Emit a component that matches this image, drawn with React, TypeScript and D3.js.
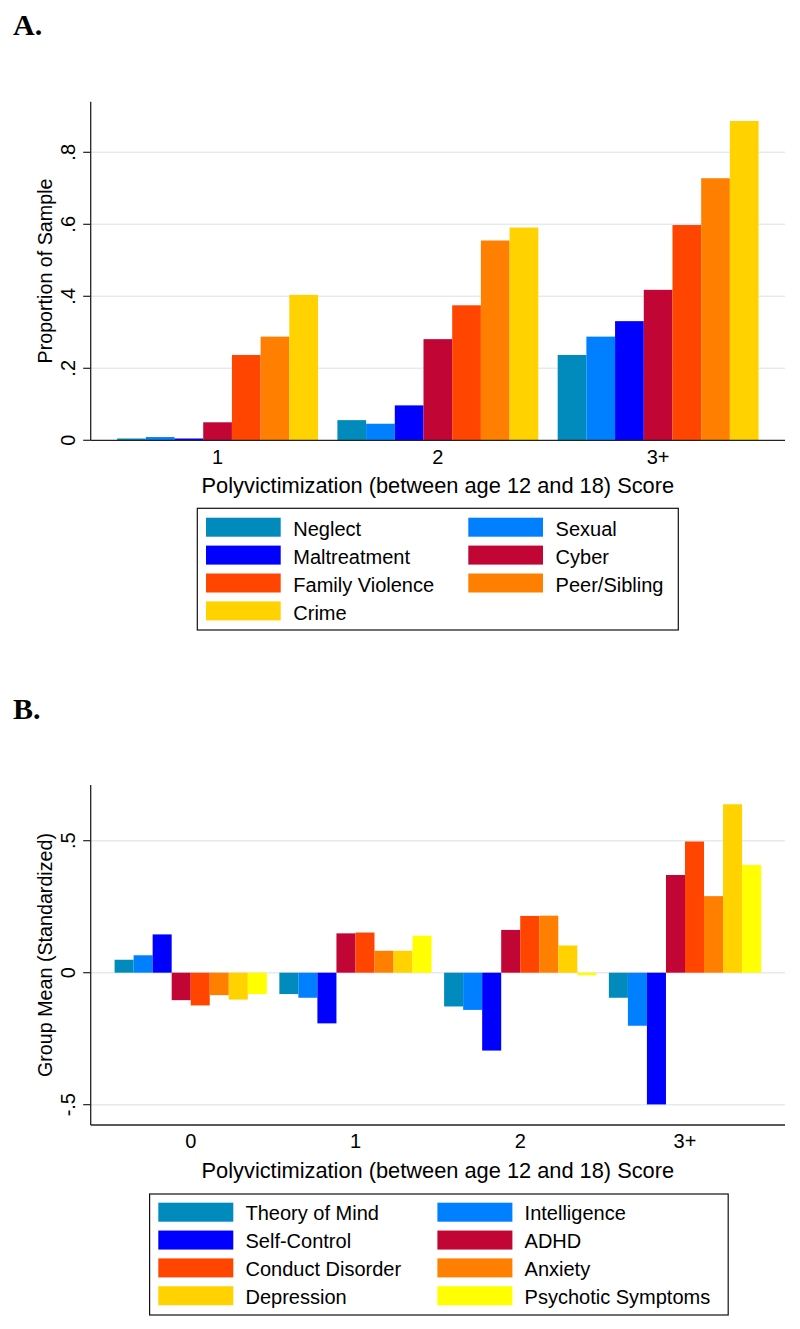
import { useEffect, useRef } from "react"
import * as d3 from "d3"

// Panel A: proportion of sample exposed to each victimization type
const groupsA = ["1", "2", "3+"]
const seriesA = ["Neglect", "Sexual", "Maltreatment", "Cyber", "Family Violence", "Peer/Sibling", "Crime"]
const neglect = [0.005, 0.056, 0.237]
const sexual = [0.009, 0.046, 0.288]
const maltreatment = [0.005, 0.097, 0.331]
const cyber = [0.05, 0.281, 0.418]
const familyViolence = [0.237, 0.375, 0.598]
const peerSibling = [0.288, 0.555, 0.728]
const crime = [0.404, 0.591, 0.887]
const ticksA = [0, 0.2, 0.4, 0.6, 0.8]
const tickLabelsA = ["0", ".2", ".4", ".6", ".8"]

// Panel B: standardized group means
const groupsB = ["0", "1", "2", "3+"]
const seriesB = ["Theory of Mind", "Intelligence", "Self-Control", "ADHD", "Conduct Disorder", "Anxiety", "Depression", "Psychotic Symptoms"]
const theoryOfMind = [0.049, -0.081, -0.128, -0.095]
const intelligence = [0.066, -0.095, -0.141, -0.201]
const selfControl = [0.145, -0.192, -0.295, -0.499]
const adhd = [-0.104, 0.149, 0.162, 0.37]
const conductDisorder = [-0.124, 0.152, 0.215, 0.497]
const anxiety = [-0.085, 0.083, 0.216, 0.29]
const depression = [-0.102, 0.083, 0.103, 0.638]
const psychotic = [-0.081, 0.14, -0.01, 0.408]
const ticksB = [-0.5, 0, 0.5]
const tickLabelsB = ["-.5", "0", ".5"]

const xTitle = "Polyvictimization (between age 12 and 18) Score"

const colorsA = ["#008bbc", "#0080ff", "#0000ff", "#c10534", "#ff4500", "#ff8000", "#ffd200"]
const colorsB = ["#008bbc", "#0080ff", "#0000ff", "#c10534", "#ff4500", "#ff8000", "#ffd200", "#ffff00"]

const FONT = "'Liberation Sans', Arial, Helvetica, sans-serif"
const SERIF = "'Liberation Serif', 'Times New Roman', serif"

interface PanelCfg {
  letter: string
  letterY: number
  groups: string[]
  series: string[]
  values: number[][]
  colors: string[]
  ticks: number[]
  tickLabels: string[]
  yTitle: string
  domain: [number, number]
  top: number
  bottom: number
  zeroGrid: boolean
  paddingInner: number
  paddingOuter: number
  tickLabelY: number
  titleY: number
  legend: { x0: number; x1: number; y0: number; y1: number; col2: number; swatchW: number; textOff: number; rowTop: number; rowStep: number; baseOff: number }
}

function drawPanel(svg: d3.Selection<SVGSVGElement, unknown, null, undefined>, cfg: PanelCfg) {
  const left = 90.7
  const right = 785
  const g = svg.append("g")

  g.append("text")
    .attr("x", 13)
    .attr("y", cfg.letterY)
    .attr("font-family", SERIF)
    .attr("font-weight", "bold")
    .attr("font-size", 30)
    .text(cfg.letter)

  const y = d3.scaleLinear().domain(cfg.domain).range([cfg.bottom, cfg.top])
  const x0 = d3.scaleBand<string>()
    .domain(cfg.groups)
    .range([left, right])
    .paddingInner(cfg.paddingInner)
    .paddingOuter(cfg.paddingOuter)
  const x1 = d3.scaleBand<string>().domain(cfg.series).range([0, x0.bandwidth()])

  // Grid lines
  g.selectAll(".grid")
    .data(cfg.ticks.filter(t => cfg.zeroGrid || t !== cfg.domain[0] && t !== 0))
    .enter()
    .append("line")
    .attr("x1", left)
    .attr("x2", right)
    .attr("y1", d => y(d))
    .attr("y2", d => y(d))
    .attr("stroke", "#e3ebee")
    .attr("stroke-width", 1.5)

  // Bars
  cfg.groups.forEach((grp, gi) => {
    g.append("g")
      .attr("transform", `translate(${x0(grp)},0)`)
      .selectAll("rect")
      .data(cfg.series.map((s, si) => ({ s, v: cfg.values[si][gi], c: cfg.colors[si] })))
      .enter()
      .append("rect")
      .attr("x", d => x1(d.s)!)
      .attr("width", x1.bandwidth())
      .attr("y", d => Math.min(y(d.v), y(0)))
      .attr("height", d => Math.abs(y(d.v) - y(0)))
      .attr("fill", d => d.c)
  })

  // Axes lines
  g.append("line")
    .attr("x1", left).attr("x2", left)
    .attr("y1", cfg.top).attr("y2", cfg.bottom)
    .attr("stroke", "#222").attr("stroke-width", 1.3)
  g.append("line")
    .attr("x1", left).attr("x2", right)
    .attr("y1", cfg.bottom).attr("y2", cfg.bottom)
    .attr("stroke", "#222").attr("stroke-width", 1.3)

  // Y ticks
  cfg.ticks.forEach((t, i) => {
    g.append("line")
      .attr("x1", left - 7.5).attr("x2", left)
      .attr("y1", y(t)).attr("y2", y(t))
      .attr("stroke", "#222").attr("stroke-width", 1.2)
    g.append("text")
      .attr("transform", `translate(75,${y(t)}) rotate(-90)`)
      .attr("text-anchor", "middle")
      .attr("font-family", FONT)
      .attr("font-size", 20)
      .text(cfg.tickLabels[i])
  })

  // Y title
  g.append("text")
    .attr("transform", `translate(52,${(cfg.top + cfg.bottom) / 2}) rotate(-90)`)
    .attr("text-anchor", "middle")
    .attr("font-family", FONT)
    .attr("font-size", 19.7)
    .text(cfg.yTitle)

  // X tick labels
  g.selectAll(".xl")
    .data(cfg.groups)
    .enter()
    .append("text")
    .attr("x", d => x0(d)! + x0.bandwidth() / 2)
    .attr("y", cfg.tickLabelY)
    .attr("text-anchor", "middle")
    .attr("font-family", FONT)
    .attr("font-size", 20)
    .text(d => d)

  g.append("text")
    .attr("x", (left + right) / 2)
    .attr("y", cfg.titleY)
    .attr("text-anchor", "middle")
    .attr("font-family", FONT)
    .attr("font-size", 21.8)
    .text(xTitle)

  // Legend
  const L = cfg.legend
  g.append("rect")
    .attr("x", L.x0).attr("y", L.y0)
    .attr("width", L.x1 - L.x0).attr("height", L.y1 - L.y0)
    .attr("fill", "white").attr("stroke", "#111").attr("stroke-width", 1.2)
  const items = g.selectAll(".li")
    .data(cfg.series.map((s, i) => ({ s, c: cfg.colors[i], col: i % 2, row: Math.floor(i / 2) })))
    .enter()
    .append("g")
    .attr("transform", d => `translate(${d.col === 0 ? L.x0 + 8.7 : L.col2},${L.rowTop + d.row * L.rowStep})`)
  items.append("rect")
    .attr("width", L.swatchW)
    .attr("height", 19)
    .attr("fill", d => d.c)
  items.append("text")
    .attr("x", L.textOff)
    .attr("y", L.baseOff)
    .attr("font-family", FONT)
    .attr("font-size", 20)
    .text(d => d.s)
}

export default function App() {
  const svgRef = useRef<SVGSVGElement>(null)

  useEffect(() => {
    document.body.style.margin = "0"
    const svg = d3.select(svgRef.current!)
    svg.selectAll("*").remove()

    drawPanel(svg, {
      letter: "A.",
      letterY: 35,
      groups: groupsA,
      series: seriesA,
      values: [neglect, sexual, maltreatment, cyber, familyViolence, peerSibling, crime],
      colors: colorsA,
      ticks: ticksA,
      tickLabels: tickLabelsA,
      yTitle: "Proportion of Sample",
      domain: [0, 0.9406],
      top: 101.7,
      bottom: 440.3,
      zeroGrid: false,
      paddingInner: 0.088,
      paddingOuter: 0.12,
      tickLabelY: 464,
      titleY: 493,
      legend: { x0: 197.3, x1: 678.3, y0: 508.3, y1: 630, col2: 468.3, swatchW: 74.7, textOff: 87.3, rowTop: 517.7, rowStep: 27.9, baseOff: 18.3 },
    })

    drawPanel(svg, {
      letter: "B.",
      letterY: 719,
      groups: groupsB,
      series: seriesB,
      values: [theoryOfMind, intelligence, selfControl, adhd, conductDisorder, anxiety, depression, psychotic],
      colors: colorsB,
      ticks: ticksB,
      tickLabels: tickLabelsB,
      yTitle: "Group Mean (Standardized)",
      domain: [-0.577, 0.711],
      top: 785,
      bottom: 1125,
      zeroGrid: true,
      paddingInner: 0.076,
      paddingOuter: 0.145,
      tickLabelY: 1148,
      titleY: 1178,
      legend: { x0: 149.6, x1: 728.2, y0: 1194, y1: 1315, col2: 437.4, swatchW: 75, textOff: 87.2, rowTop: 1202.7, rowStep: 27.85, baseOff: 17.5 },
    })
  }, [])

  return <svg ref={svgRef} width={800} height={1329} style={{ display: "block", background: "white" }} />
}
